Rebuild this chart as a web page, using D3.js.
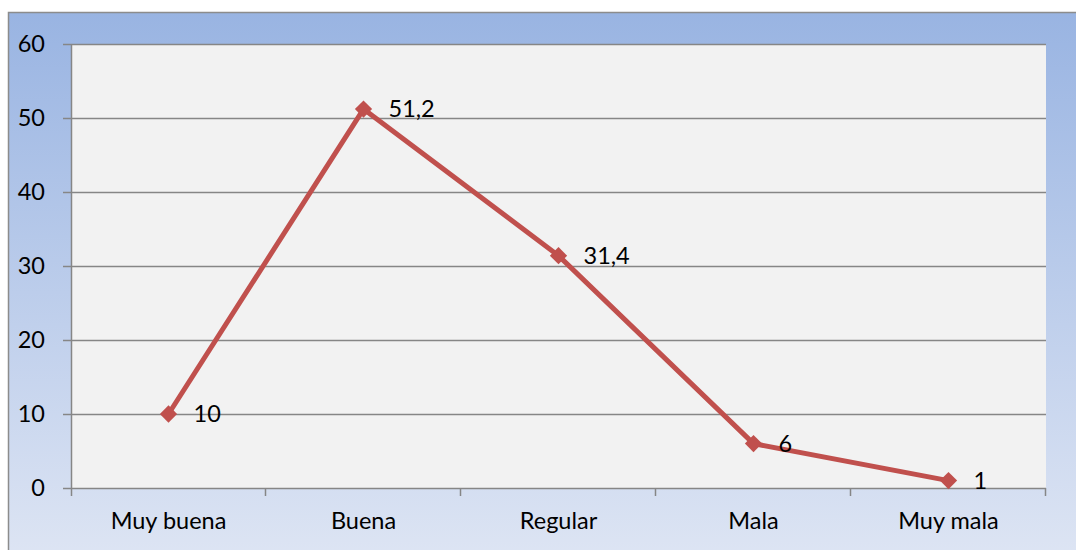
<!DOCTYPE html>
<html>
<head>
<meta charset="utf-8">
<script src="https://cdn.jsdelivr.net/npm/d3@7"></script>
<style>
  body { margin: 0; background: #fff; }
  svg text { font-family: Lato, "Open Sans", sans-serif; fill: #000; }
</style>
</head>
<body>
<div class="chart"></div>
<script>
// chart data
var categories = ["Muy buena", "Buena", "Regular", "Mala", "Muy mala"];
var values = [10, 51.2, 31.4, 6, 1];
var valueLabels = ["10", "51,2", "31,4", "6", "1"];
var yTicks = [0, 10, 20, 30, 40, 50, 60];

var svgWidth = 1076;
var svgHeight = 550;
var margin = { top: 44, right: 30, bottom: 62, left: 71 };
var width = 1046 - margin.left;
var height = 488 - margin.top;
var fontSize = "23.5px";

var svg = d3.select(".chart")
  .append("svg")
  .attr("width", svgWidth)
  .attr("height", svgHeight);

// background gradient
var defs = svg.append("defs");
var grad = defs.append("linearGradient")
  .attr("id", "bg")
  .attr("x1", 0).attr("y1", 0).attr("x2", 0).attr("y2", 1);
grad.append("stop").attr("offset", "0%").attr("stop-color", "#99b4e2");
grad.append("stop").attr("offset", "100%").attr("stop-color", "#dfe6f4");

svg.append("rect")
  .attr("x", 8.5).attr("y", 12.5)
  .attr("width", svgWidth + 10).attr("height", svgHeight + 10)
  .attr("fill", "url(#bg)")
  .attr("stroke", "#8c8c8c")
  .attr("stroke-width", 1.5);

var chart = svg.append("g")
  .attr("transform", "translate(" + margin.left + "," + margin.top + ")");

var xScale = d3.scaleBand().domain(categories).range([0, width]);
var yScale = d3.scaleLinear().domain([0, 60]).range([height, 0]);

// plot area
chart.append("rect")
  .attr("width", width).attr("height", height)
  .attr("fill", "#f2f2f2");

// gridlines
chart.append("g")
  .selectAll("line")
  .data(yTicks)
  .enter()
  .append("line")
  .attr("x1", -8).attr("x2", width)
  .attr("y1", function (d) { return Math.round(yScale(d)) + 0.5; })
  .attr("y2", function (d) { return Math.round(yScale(d)) + 0.5; })
  .attr("stroke", "#868686")
  .attr("stroke-width", 1.5);

// y axis line
chart.append("line")
  .attr("x1", 0.5).attr("x2", 0.5)
  .attr("y1", 0).attr("y2", height + 8)
  .attr("stroke", "#868686")
  .attr("stroke-width", 1.5);

// x ticks at category boundaries
var bounds = categories.map(function (c) { return xScale(c) + xScale.bandwidth(); });
chart.append("g")
  .selectAll("line")
  .data(bounds)
  .enter()
  .append("line")
  .attr("x1", function (d) { return Math.round(d) - 0.5; })
  .attr("x2", function (d) { return Math.round(d) - 0.5; })
  .attr("y1", height).attr("y2", height + 8)
  .attr("stroke", "#868686")
  .attr("stroke-width", 1.5);

// y tick labels
chart.append("g")
  .selectAll("text")
  .data(yTicks)
  .enter()
  .append("text")
  .attr("x", -26)
  .attr("y", function (d) { return yScale(d); })
  .attr("dy", "0.35em")
  .attr("text-anchor", "end")
  .attr("font-size", fontSize)
  .text(function (d) { return d; });

// x category labels
chart.append("g")
  .selectAll("text")
  .data(categories)
  .enter()
  .append("text")
  .attr("x", function (d) { return xScale(d) + xScale.bandwidth() / 2; })
  .attr("y", height + 41)
  .attr("text-anchor", "middle")
  .attr("font-size", fontSize)
  .text(function (d) { return d; });

var points = categories.map(function (c, i) {
  return { cat: c, value: values[i], label: valueLabels[i] };
});

var line = d3.line()
  .x(function (d) { return xScale(d.cat) + xScale.bandwidth() / 2; })
  .y(function (d) { return yScale(d.value); });

chart.append("path")
  .datum(points)
  .attr("d", line)
  .attr("fill", "none")
  .attr("stroke", "#c0504d")
  .attr("stroke-width", 5)
  .attr("stroke-linejoin", "round");

// diamond markers
chart.append("g")
  .selectAll("path")
  .data(points)
  .enter()
  .append("path")
  .attr("d", d3.symbol().type(d3.symbolDiamond2).size(190))
  .attr("transform", function (d) {
    return "translate(" + (xScale(d.cat) + xScale.bandwidth() / 2) + "," + yScale(d.value) + ")";
  })
  .attr("fill", "#c0504d");

// value labels
chart.append("g")
  .selectAll("text")
  .data(points)
  .enter()
  .append("text")
  .attr("x", function (d) { return xScale(d.cat) + xScale.bandwidth() / 2 + 25; })
  .attr("y", function (d) { return yScale(d.value); })
  .attr("dy", "0.35em")
  .attr("font-size", fontSize)
  .text(function (d) { return d.label; });
</script>
</body>
</html>
